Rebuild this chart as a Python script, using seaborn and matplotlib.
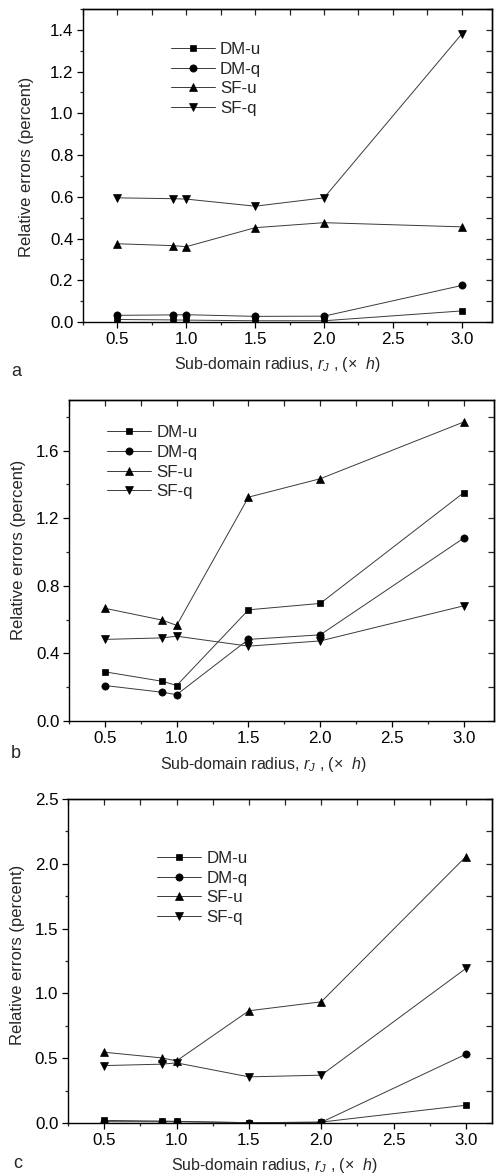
import numpy as np
import pandas as pd
import matplotlib
matplotlib.use("Agg")
import matplotlib.pyplot as plt
from matplotlib.ticker import MultipleLocator, FormatStrFormatter
import seaborn as sns

sns.set_theme(style="ticks")
plt.rcParams["font.family"] = ["Liberation Sans", "DejaVu Sans"]
plt.rcParams["mathtext.fontset"] = "custom"
plt.rcParams["mathtext.rm"] = "Liberation Sans"
plt.rcParams["mathtext.it"] = "Liberation Sans:italic"
plt.rcParams["axes.linewidth"] = 1.0

# Sub-domain radius r_J (in units of h)
radius = [0.5, 0.9, 1.0, 1.5, 2.0, 3.0]
series_names = ["DM-u", "DM-q", "SF-u", "SF-q"]

# Panel a: relative errors (percent)
a_dm_u = [0.012, 0.010, 0.009, 0.006, 0.006, 0.053]
a_dm_q = [0.032, 0.034, 0.035, 0.027, 0.028, 0.175]
a_sf_u = [0.375, 0.366, 0.361, 0.452, 0.476, 0.456]
a_sf_q = [0.595, 0.591, 0.589, 0.555, 0.595, 1.380]

# Panel b
b_dm_u = [0.291, 0.235, 0.210, 0.658, 0.696, 1.352]
b_dm_q = [0.210, 0.170, 0.156, 0.483, 0.510, 1.083]
b_sf_u = [0.667, 0.597, 0.566, 1.325, 1.434, 1.770]
b_sf_q = [0.483, 0.492, 0.502, 0.443, 0.474, 0.682]

# Panel c
c_dm_u = [0.020, 0.015, 0.013, 0.002, 0.007, 0.137]
c_dm_q = [0.010, 0.010, 0.010, 0.003, 0.005, 0.531]
c_sf_u = [0.546, 0.502, 0.479, 0.866, 0.935, 2.056]
c_sf_q = [0.443, 0.454, 0.464, 0.356, 0.369, 1.193]

panel_letters = ["a", "b", "c"]
xlabel_text = r"Sub-domain radius, $r_J$ , (×  $h$)"
ylabel_text = "Relative errors (percent)"

markers = {"DM-u": "s", "DM-q": "o", "SF-u": "^", "SF-q": "v"}
msizes = {"DM-u": 4.8, "DM-q": 5.2, "SF-u": 6.0, "SF-q": 6.0}

W, H = 496, 1176
fig = plt.figure(figsize=(W / 100, H / 100), dpi=100)


def px_axes(left, right, top, bottom):
    return fig.add_axes([left / W, 1 - bottom / H, (right - left) / W, (bottom - top) / H])


panels = [
    dict(box=(83, 492, 9, 322), data=[a_dm_u, a_dm_q, a_sf_u, a_sf_q],
         xlim=(0.25, 3.22), ylim=(0, 1.5), ymaj=0.2, ymin=0.1,
         leg=(0.215, 0.895), xlab=(0.475, -0.137), ylab=(-0.137, 0.495),
         letter=(16, 372)),
    dict(box=(69, 494, 400, 721), data=[b_dm_u, b_dm_q, b_sf_u, b_sf_q],
         xlim=(0.25, 3.21), ylim=(0, 1.9), ymaj=0.4, ymin=0.2,
         leg=(0.0896, 0.922), xlab=(0.458, -0.137), ylab=(-0.118, 0.533),
         letter=(16, 754)),
    dict(box=(68, 492, 799, 1123), data=[c_dm_u, c_dm_q, c_sf_u, c_sf_q],
         xlim=(0.25, 3.18), ylim=(0, 2.5), ymaj=0.5, ymin=0.25,
         leg=(0.21, 0.84), xlab=(0.486, -0.13), ylab=(-0.12, 0.518),
         letter=(18, 1163)),
]

for letter, p in zip(panel_letters, panels):
    ax = px_axes(*p["box"])
    for name, vals in zip(series_names, p["data"]):
        df = pd.DataFrame({"r": radius, "err": vals})
        sns.lineplot(data=df, x="r", y="err", ax=ax, label=name,
                     color="#3a3a3a", linewidth=0.7,
                     marker=markers[name], markersize=msizes[name],
                     markerfacecolor="black", markeredgecolor="black",
                     markeredgewidth=0.5)
    ax.set_xlim(*p["xlim"])
    ax.set_ylim(*p["ylim"])
    ax.xaxis.set_major_locator(MultipleLocator(0.5))
    ax.xaxis.set_minor_locator(MultipleLocator(0.25))
    ax.yaxis.set_major_locator(MultipleLocator(p["ymaj"]))
    ax.yaxis.set_minor_locator(MultipleLocator(p["ymin"]))
    ax.tick_params(which="major", direction="out", length=4, width=0.9,
                   labelsize=12.2, colors="black", pad=3)
    ax.tick_params(which="minor", direction="out", length=2.5, width=0.9)
    ax.xaxis.set_major_formatter(FormatStrFormatter("%.1f"))
    ax.yaxis.set_major_formatter(FormatStrFormatter("%.1f"))
    for s in ax.spines.values():
        s.set_visible(True)
        s.set_color("black")
        s.set_linewidth(1.0)

    # inward ticks on the top and right frame edges
    top = ax.secondary_xaxis("top")
    top.xaxis.set_major_locator(MultipleLocator(0.25))
    top.tick_params(direction="in", length=4, width=0.9, labeltop=False)
    right = ax.secondary_yaxis("right")
    right.yaxis.set_major_locator(MultipleLocator(p["ymin"]))
    right.tick_params(direction="in", length=4, width=0.9, labelright=False)

    ax.set_xlabel(xlabel_text, fontsize=11.5)
    ax.xaxis.label.set_verticalalignment("center")
    ax.xaxis.set_label_coords(*p["xlab"])
    ax.set_ylabel(ylabel_text, fontsize=12)
    ax.yaxis.label.set_verticalalignment("center")
    ax.yaxis.set_label_coords(*p["ylab"])

    ax.legend(loc="upper left", bbox_to_anchor=p["leg"], frameon=False,
              borderaxespad=0, borderpad=0, fontsize=12.2, handlelength=2.6,
              handletextpad=0.3, labelspacing=0.28)

    fig.text(p["letter"][0] / W, 1 - p["letter"][1] / H, letter,
             fontsize=13, ha="center", va="center")

fig.savefig("out.png", dpi=100)
